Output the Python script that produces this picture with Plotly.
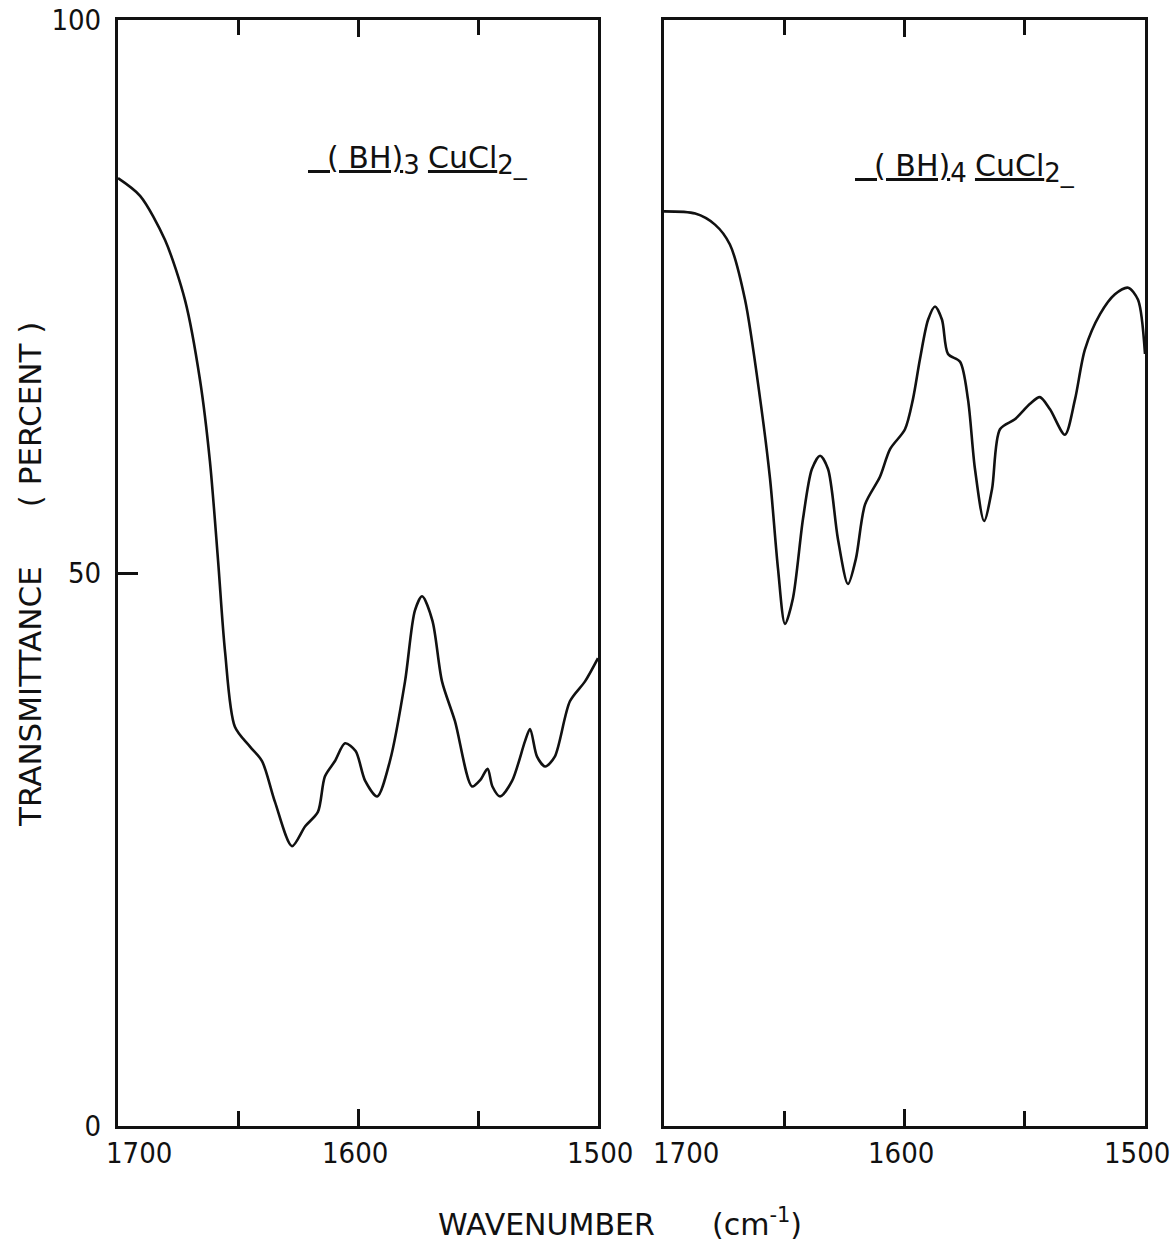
import plotly.graph_objects as go

# Left panel: (BH)3 CuCl2
wn_left = [1700, 1690.8, 1680.4, 1672, 1665.8, 1661.7, 1658.3, 1655.4, 1651.3, 1645, 1640,
           1634.6, 1627.5, 1622, 1616.7, 1613.8, 1609.6, 1605.4, 1601, 1597, 1592, 1586.7,
           1580.4, 1576.3, 1573.3, 1569, 1565, 1559.6, 1552.5, 1549, 1546, 1544, 1540.8,
           1535.8, 1530.4, 1528.3, 1525.4, 1522, 1518, 1511.7, 1505.4, 1500]
tr_left = [85.7, 84.1, 80.1, 74.6, 67.4, 60.1, 51.1, 42.9, 36.1, 34.3, 33.0,
           29.3, 25.3, 27.1, 28.4, 31.6, 33.0, 34.6, 33.9, 31.2, 29.8, 33.0,
           40.2, 46.6, 47.9, 45.7, 40.2, 36.6, 30.7, 31.3, 32.3, 30.7, 29.8,
           31.2, 34.8, 35.9, 33.4, 32.5, 33.4, 38.4, 40.2, 42.3]

# Right panel: (BH)4 CuCl2
wn_right = [1700, 1687, 1678.8, 1672.6, 1666.3, 1660, 1655.9, 1652.6, 1649.7, 1646.4, 1642.2,
            1638.5, 1635.1, 1631.8, 1627.7, 1623.5, 1620.2, 1616.4, 1610.2, 1606, 1599.8,
            1596.5, 1593.6, 1590.2, 1587.3, 1584.4, 1581.9, 1576.9, 1573.6, 1570.7, 1566.9,
            1563.6, 1560.3, 1554.1, 1547.8, 1543.7, 1539.5, 1533.3, 1529.1, 1525, 1518.7,
            1512.5, 1507, 1502.9, 1500]
tr_right = [82.7, 82.5, 81.5, 79.7, 74.7, 65.7, 58.5, 50.4, 45.4, 47.7, 54.9,
            59.4, 60.6, 59.4, 53.1, 49.0, 51.3, 56.2, 58.7, 61.2, 63.0,
            65.7, 69.3, 72.9, 74.1, 72.9, 69.8, 69.1, 65.7, 59.4, 54.7,
            57.6, 63.0, 63.9, 65.3, 65.9, 64.8, 62.5, 65.7, 70.2, 73.4,
            75.2, 75.8, 74.7, 69.8]

x_tickvals = [1700, 1600, 1500]
x_ticktext = ["1700", "1600", "1500"]
x_minorvals = [1650, 1550]
y_tickvals = [0, 50, 100]
y_ticktext = ["0", "50", "100"]

TICKFONT = "DejaVu Sans Condensed, sans-serif"
TEXTFONT = "DejaVu Sans, sans-serif"
W, H = 1174, 1246
INK = "#111"

fig = go.Figure()
fig.add_trace(go.Scatter(x=wn_left, y=tr_left, mode="lines", xaxis="x", yaxis="y",
                         line=dict(color=INK, width=2.6, shape="spline", smoothing=0.8),
                         showlegend=False, hoverinfo="skip"))
fig.add_trace(go.Scatter(x=wn_right, y=tr_right, mode="lines", xaxis="x2", yaxis="y2",
                         line=dict(color=INK, width=2.6, shape="spline", smoothing=0.8),
                         showlegend=False, hoverinfo="skip"))

xax = dict(range=[1700, 1500], tickvals=x_tickvals, ticktext=x_ticktext, showticklabels=False,
           ticks="inside", ticklen=17, tickwidth=2.5, tickcolor=INK,
           minor=dict(tickvals=x_minorvals, ticks="inside", ticklen=15, tickwidth=2.5, tickcolor=INK, showgrid=False),
           showline=True, linewidth=3, linecolor=INK, mirror="ticks",
           showgrid=False, zeroline=False, automargin=False)
yax = dict(range=[0, 100], tickvals=y_tickvals, ticktext=y_ticktext,
           ticks="inside", ticklen=20, tickwidth=2.5, tickcolor=INK,
           showline=True, linewidth=3, linecolor=INK, mirror=True,
           showgrid=False, zeroline=False, automargin=False,
           tickfont=dict(family=TICKFONT, size=29, color=INK), ticklabelstandoff=8)

fig.update_layout(
    width=W, height=H,
    margin=dict(l=0, r=0, t=0, b=0),
    paper_bgcolor="white", plot_bgcolor="white",
    xaxis=dict(xax, domain=[118 / W, 598 / W], anchor="y"),
    yaxis=dict(yax, domain=[1 - 1126 / H, 1 - 20 / H], anchor="x"),
    xaxis2=dict(xax, domain=[664 / W, 1145 / W], anchor="y2"),
    yaxis2=dict(yax, domain=[1 - 1126 / H, 1 - 20 / H], anchor="x2", showticklabels=False, ticks=""),
)

# x tick labels (hand-lettered offsets as in the original drawing)
label_shift = {"x": [21, -3, 2], "x2": [22, -4, -8]}
for ax, shifts in label_shift.items():
    for val, txt, dx in zip(x_tickvals, x_ticktext, shifts):
        fig.add_annotation(xref=ax, yref="paper", x=val, y=1 - 1153 / H, xshift=dx,
                           xanchor="center", yanchor="middle", text=txt, showarrow=False,
                           font=dict(family=TICKFONT, size=29, color=INK))

fig.add_annotation(xref="paper", yref="paper", x=30 / W, y=1 - 575 / H, xanchor="center", yanchor="middle",
                   text="TRANSMITTANCE      ( PERCENT )",
                   textangle=-90, showarrow=False, font=dict(family=TEXTFONT, size=31, color=INK))
fig.add_annotation(xref="paper", yref="paper", x=620 / W, y=1 - 1222 / H, xanchor="center", yanchor="middle",
                   text="WAVENUMBER      (cm<sup>-1</sup>)",
                   showarrow=False, font=dict(family=TEXTFONT, size=30, color=INK))

SUB = '<sub><span style="font-size:26px">{}</span></sub>'
label_left = '<u>  ( BH)</u>' + SUB.format('3 ') + '<u>CuCl</u>' + SUB.format('2_')
label_right = '<u>  ( BH)</u>' + SUB.format('4 ') + '<u>CuCl</u>' + SUB.format('2_')
fig.add_annotation(xref="paper", yref="paper", x=418 / W, y=1 - 160 / H, xanchor="center", yanchor="middle",
                   text=label_left, showarrow=False, font=dict(family=TEXTFONT, size=30, color=INK))
fig.add_annotation(xref="paper", yref="paper", x=965 / W, y=1 - 168 / H, xanchor="center", yanchor="middle",
                   text=label_right, showarrow=False, font=dict(family=TEXTFONT, size=30, color=INK))

fig.write_html("out.html")
